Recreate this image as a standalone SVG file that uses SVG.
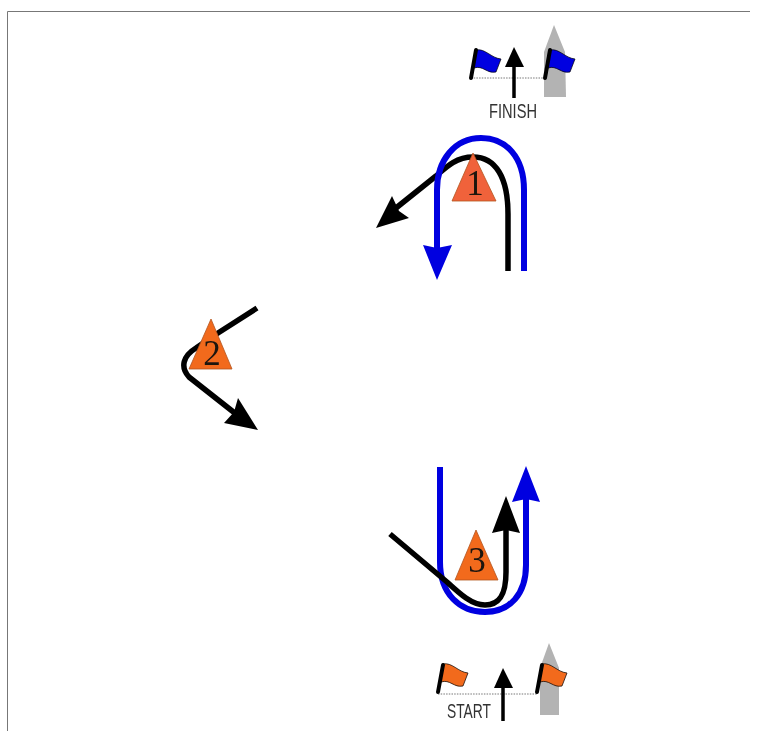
<svg xmlns="http://www.w3.org/2000/svg" xmlns:xlink="http://www.w3.org/1999/xlink" width="764" height="731" viewBox="0 0 764 731">
  <style>
    .route{fill:none;stroke-linecap:butt;stroke-linejoin:round}
    .k{stroke:#000;stroke-width:5.5}
    .b{stroke:#0505e0;stroke-width:6}
    .hk{fill:#000}
    .hb{fill:#0505e0}
    .num{font-family:"Liberation Serif",serif;font-size:35px;text-anchor:middle;fill:#1a1410}
    .lab{font-family:"Liberation Sans",sans-serif;font-size:21px;fill:#333}
    .mark{stroke:#b3541f;stroke-width:.8}
    .line{stroke:#777;stroke-width:1;stroke-dasharray:1.5 1.2;fill:none}
    .boat{fill:#b3b3b3}
    .pole{stroke:#000;stroke-width:4;stroke-linecap:round}
    .flagb{fill:#0505e0;stroke:#000;stroke-width:.7}
    .flago{fill:#f26a1f;stroke:#000;stroke-width:.7}
    .soft{filter:url(#soft)}
  </style>
  <defs>
    <filter id="soft" x="-5%" y="-5%" width="110%" height="110%"><feGaussianBlur stdDeviation="0.5"/></filter>
    <path id="flag" d="M5,-28C14,-30 20,-20 30,-19L25,-6C16,-4 12,-13 3,-10Z"/>
  </defs>
  <rect width="764" height="731" fill="#fff"/>
  <path id="frame" d="M7.5,731V11.5H750" fill="none" stroke="#777" stroke-width="1"/>

  <g id="connectors" class="soft">
    <path class="route k" d="M508,271V214C508,178 496,157 473,157C456,157 446,167 436,176L396,208"/>
    <path class="hk" d="M376,228L392,196L399,211L409,218Z"/>
    <path class="route b" d="M524,271V190C524,157 506,138 481,138C455,138 437,160 437,190V250"/>
    <path class="hb" d="M437,280L423,245L437,248L452,245Z"/>

    <path class="route k" d="M257,308L218,333L196,348C183,356 180,367 189,377L236,414"/>
    <path class="hk" d="M258,430L238,398L234,412L224,423Z"/>

    <path class="route b" d="M440,467V562C440,594 460,612 485,612C510,612 526,594 526,565V498"/>
    <path class="hb" d="M526,466L512,502L526,499L540,502Z"/>
    <path class="route k" d="M390,534L447,582C460,594 472,605 485,605C500,605 506,594 506,572V528"/>
    <path class="hk" d="M506,496L492,533L506,530L520,533Z"/>
  </g>

  <g id="mark-1" class="soft">
    <path class="mark" fill="#f0623a" d="M473,153L496,201H452Z"/>
    <text class="num" x="475" y="195">1</text>
  </g>
  <g id="mark-2" class="soft">
    <path class="mark" fill="#f26a1f" d="M211,319L232,369H189Z"/>
    <text class="num" x="212" y="365">2</text>
  </g>
  <g id="mark-3" class="soft">
    <path class="mark" fill="#f26a1f" d="M476,530L498,580H455Z"/>
    <text class="num" x="477" y="572">3</text>
  </g>

  <g id="finish" class="soft">
    <path class="boat" d="M554,25L565,52L566,97H544L544,52Z"/>
    <path class="line" d="M471,78H545"/>
    <path class="hk" d="M514,47L524,67H505Z"/>
    <path d="M514,65V98" stroke="#000" stroke-width="3.5"/>
    <g transform="translate(471,78)"><use xlink:href="#flag" class="flagb"/><path class="pole" d="M0,0L5,-28"/></g>
    <g transform="translate(545,78)"><use xlink:href="#flag" class="flagb"/><path class="pole" d="M0,0L5,-28"/></g>
    <text class="lab" x="489" y="118" textLength="48" lengthAdjust="spacingAndGlyphs">FINISH</text>
  </g>

  <g id="start" class="soft">
    <path class="boat" d="M549,643L559,668L559,715H540L540,668Z"/>
    <path class="line" d="M438,694H537"/>
    <path class="hk" d="M503,668L513,688H494Z"/>
    <path d="M503,686V721" stroke="#000" stroke-width="3.5"/>
    <g transform="translate(438,692)"><use xlink:href="#flag" class="flago"/><path class="pole" d="M0,0L5,-27"/></g>
    <g transform="translate(537,692)"><use xlink:href="#flag" class="flago"/><path class="pole" d="M0,0L5,-27"/></g>
    <text class="lab" x="447" y="718" textLength="44" lengthAdjust="spacingAndGlyphs">START</text>
  </g>
</svg>
